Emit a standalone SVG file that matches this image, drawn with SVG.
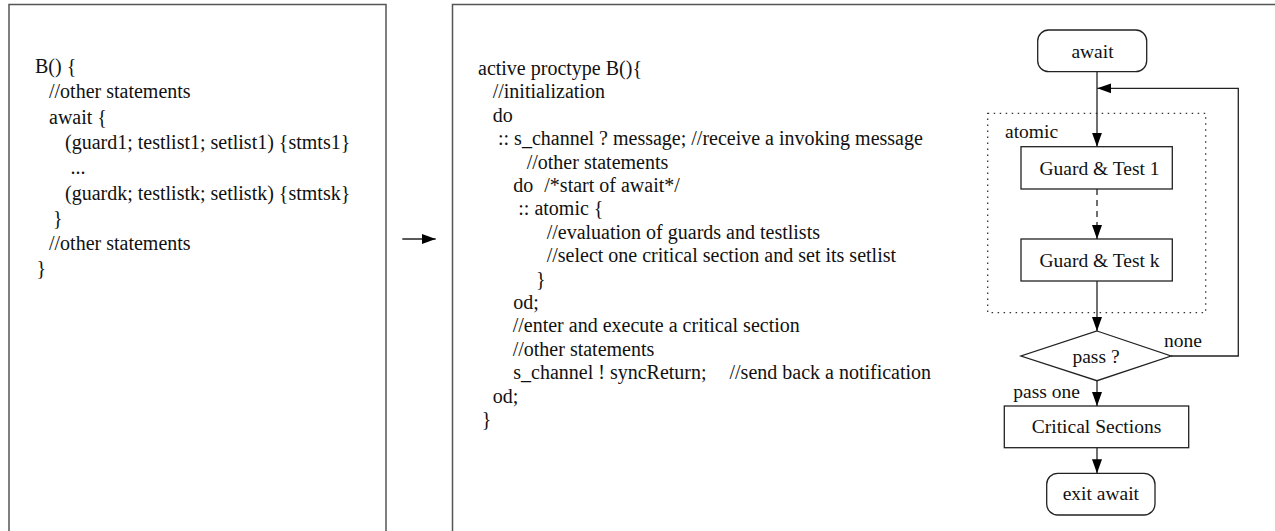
<svg xmlns="http://www.w3.org/2000/svg" width="1275" height="531" viewBox="0 0 1275 531">
<style>
.panel{fill:#fff;stroke:#555;stroke-width:1.5}
.code{font-family:"Liberation Serif","Times New Roman",serif;fill:#111}
.l{font-size:20px}
.r{font-size:20px}
.box{fill:#fff;stroke:#222;stroke-width:1.3}
.lbl{font-family:"Liberation Serif","Times New Roman",serif;font-size:19.5px;fill:#111}
.c{text-anchor:middle}
.ln{fill:none;stroke:#222;stroke-width:1.3}
</style>
<defs>
<marker id="ah" viewBox="0 0 14 10" refX="14" refY="5" markerWidth="14" markerHeight="10" markerUnits="userSpaceOnUse" orient="auto">
<path d="M0,0 L14,5 L0,10 z" fill="#000"/>
</marker>
</defs>
<rect width="1275" height="531" fill="#fff"/>
<g id="left-panel">
<rect class="panel" x="9" y="4.5" width="377" height="540"/>
<g class="code l">
<text x="35" y="73">B() {</text>
<text x="49" y="98.3">//other statements</text>
<text x="49" y="123.6">await {</text>
<text x="65" y="148.9">(guard1; testlist1; setlist1) {stmts1}</text>
<text x="70.5" y="174.2">...</text>
<text x="65" y="199.5">(guardk; testlistk; setlistk) {stmtsk}</text>
<text x="53" y="224.8">}</text>
<text x="49" y="250.1">//other statements</text>
<text x="36.5" y="275.4">}</text>
</g>
</g>
<g id="right-panel">
<rect class="panel" x="452.5" y="4.5" width="840" height="540"/>
<g class="code r">
<text x="478" y="75">active proctype B(){</text>
<text x="492.7" y="98.4">//initialization</text>
<text x="492.7" y="121.8">do</text>
<text x="498" y="145.2">:: s_channel ? message; //receive a invoking message</text>
<text x="526.7" y="168.6">//other statements</text>
<text x="513.3" y="192">do</text>
<text x="544.3" y="192">/*start of await*/</text>
<text x="518.3" y="215.4">:: atomic {</text>
<text x="546.7" y="238.8">//evaluation of guards and testlists</text>
<text x="546.7" y="262.2">//select one critical section and set its setlist</text>
<text x="536" y="285.6">}</text>
<text x="513.3" y="309">od;</text>
<text x="512.7" y="332.4">//enter and execute a critical section</text>
<text x="512.7" y="355.8">//other statements</text>
<text x="513.3" y="379.2">s_channel ! syncReturn;</text>
<text x="729.5" y="379.2">//send back a notification</text>
<text x="492.7" y="402.6">od;</text>
<text x="481.7" y="426">}</text>
</g>
</g>
<g id="atomic-region">
<rect x="987.7" y="113.3" width="218" height="199.4" fill="none" stroke="#333" stroke-width="1.3" stroke-dasharray="1.5,4.5"/>
<text class="lbl" x="1005" y="138">atomic</text>
</g>
<g id="node-await">
<rect class="box" x="1037.7" y="30" width="109" height="41.7" rx="11" ry="11"/>
<text class="lbl c" x="1092.5" y="57.5">await</text>
</g>
<g id="node-guard1">
<rect class="box" x="1021" y="146.7" width="151.3" height="42.3"/>
<text class="lbl c" x="1099.5" y="174.5">Guard &amp; Test 1</text>
</g>
<g id="node-guardk">
<rect class="box" x="1021" y="239" width="151.3" height="42"/>
<text class="lbl c" x="1099.5" y="266.5">Guard &amp; Test k</text>
</g>
<g id="node-pass">
<polygon class="box" points="1097,331 1171,356 1097,380.7 1021,356"/>
<text class="lbl c" x="1096" y="363">pass ?</text>
</g>
<g id="node-critical">
<rect class="box" x="1004.3" y="406" width="184.4" height="41.7"/>
<text class="lbl c" x="1096.5" y="433">Critical Sections</text>
</g>
<g id="node-exit">
<rect class="box" x="1046.7" y="473.3" width="108.3" height="41.7" rx="11" ry="11"/>
<text class="lbl c" x="1100.8" y="500">exit await</text>
</g>
<g id="connectors">
<line class="ln" x1="402.3" y1="239" x2="435.7" y2="239" marker-end="url(#ah)"/>
<line class="ln" x1="1097" y1="71.7" x2="1097" y2="146.7" marker-end="url(#ah)"/>
<line class="ln" x1="1097" y1="189" x2="1097" y2="239" stroke-dasharray="6,5" marker-end="url(#ah)"/>
<line class="ln" x1="1097" y1="281" x2="1097" y2="331" marker-end="url(#ah)"/>
<polyline class="ln" points="1171,356 1238.3,356 1238.3,88.3 1097.3,88.3" marker-end="url(#ah)"/>
<line class="ln" x1="1097" y1="380.7" x2="1097" y2="406" marker-end="url(#ah)"/>
<line class="ln" x1="1097" y1="447.7" x2="1097" y2="473.3" marker-end="url(#ah)"/>
<text class="lbl" x="1164" y="347">none</text>
<text class="lbl" x="1013.3" y="398">pass one</text>
</g>
</svg>
